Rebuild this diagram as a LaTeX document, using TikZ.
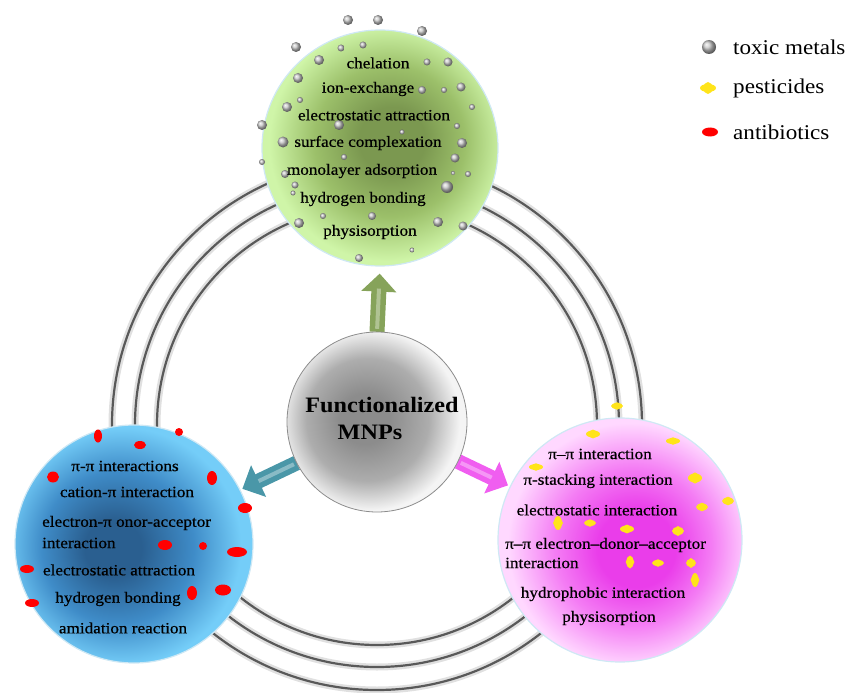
\documentclass[tikz,border=0pt]{standalone}
\usepackage{fontspec}
\setmainfont[FakeStretch=1.1]{Liberation Serif}
\newfontfamily\heavyserif[FakeStretch=1.1,FakeBold=0.6]{Liberation Serif}
\usetikzlibrary{arrows.meta,calc}
\definecolor{gIn}{HTML}{7B9850}
\definecolor{gMid}{HTML}{9CC06A}
\definecolor{gOut}{HTML}{CFF5A8}
\definecolor{bIn}{HTML}{2A5F90}
\definecolor{bMid}{HTML}{3F8CC8}
\definecolor{bOut}{HTML}{74CDF8}
\definecolor{pIn}{HTML}{EA3DEA}
\definecolor{pMid}{HTML}{F47CF4}
\definecolor{pOut}{HTML}{FFD8FF}
\definecolor{cIn}{HTML}{8C8C8C}
\definecolor{cMid}{HTML}{ADADAD}
\definecolor{cOut}{HTML}{F4F4F4}
\definecolor{arrG}{HTML}{86A35A}
\definecolor{arrT}{HTML}{4A97A8}
\definecolor{arrP}{HTML}{F05EF0}
\definecolor{pestC}{HTML}{FFE41A}
\definecolor{rimC}{HTML}{CFE8F4}
\pgfdeclareradialshading{greensh}{\pgfpoint{3bp}{2bp}}{color(0bp)=(gIn); color(7bp)=(gIn); color(16bp)=(gMid); color(25bp)=(gOut); color(50bp)=(gOut)}
\pgfdeclareradialshading{bluesh}{\pgfpoint{-5bp}{-1bp}}{color(0bp)=(bIn); color(6bp)=(bIn); color(16bp)=(bMid); color(25bp)=(bOut); color(50bp)=(bOut)}
\pgfdeclareradialshading{pinksh}{\pgfpoint{4bp}{-2bp}}{color(0bp)=(pIn); color(8bp)=(pIn); color(16bp)=(pMid); color(25bp)=(pOut); color(50bp)=(pOut)}
\pgfdeclareradialshading{coresh}{\pgfpoint{-4bp}{1bp}}{color(0bp)=(cIn); color(7bp)=(cIn); color(17bp)=(cMid); color(25bp)=(cOut); color(50bp)=(cOut)}
\begin{document}
\begin{tikzpicture}[x=1pt,y=-1pt,
  ringshadow/.style={draw=black!12, line width=7pt},
  ring/.style={draw=black!65, line width=2.2pt},
  bubble/.style={circle, inner sep=0pt, draw=rimC, line width=1.2pt},
  txt/.style={inner sep=0pt, font=\heavyserif\fontsize{15.6}{18}\selectfont, text=black},
  titletxt/.style={inner sep=0pt, font=\fontsize{22}{26}\selectfont\bfseries},
  legtxt/.style={inner sep=0pt, anchor=west, font=\fontsize{21}{24}\selectfont},
  blockarrow/.style={line width=15pt, -{Triangle[width=34pt,length=18pt]}},
  shine/.style={line width=4pt, draw=white, opacity=0.35},
  metal/.style={ball color=gray!45},
  antib/.style={fill=red},
  pest/.style={fill=pestC}]

\useasboundingbox (0,0) rectangle (847,693);

% rings
\coordinate (rc) at (377,425);
\foreach \r in {220,242,265} {\draw[ringshadow] (rc) circle[radius=\r pt];}
\foreach \r in {220,242,265} {\draw[ring] (rc) circle[radius=\r pt];}

% outer bubbles
\node[bubble, shading=greensh, minimum size=236pt] (top) at (380,148) {};
\node[bubble, shading=bluesh, minimum size=238pt] (blue) at (134,544) {};
\node[bubble, shading=pinksh, minimum size=244pt] (pink) at (620,540) {};

% core position, arrows beneath the core
\node[circle, minimum size=180pt, inner sep=0pt] (corepos) at (377,422) {};
\draw[blockarrow, draw=arrG, shorten >=7pt] (corepos.north) -- (top.south);
\draw[shine, shorten >=22pt, shorten <=3pt] (corepos.north) -- (top.south);
\draw[blockarrow, draw=arrT, shorten >=2pt] (corepos.207) -- (blue.27);
\draw[shine, shorten >=20pt, shorten <=3pt] (corepos.207) -- (blue.27);
\draw[blockarrow, draw=arrP, shorten >=2pt] (corepos.334) -- (pink.154);
\draw[shine, shorten >=20pt, shorten <=3pt] (corepos.334) -- (pink.154);
\node[circle, minimum size=180pt, inner sep=0pt, shading=coresh, draw=black!45, line width=0.8pt] (core) at (377,422) {};

% toxic metals
\foreach \x/\y/\r in {348/20/5,378/20/5,422/31/5,296/47/5,341/48/3.5,363/45/3.5,319/60/5,427/62/3.5,448/62/4.5,
  298/78/5,300/100/3,422/90/4,444/90/3,461/87/4.5,287/107/5,472/107/3,262/125/5,339/125/5,457/126/3,402/132/2.5,
  283/142/5.5,462/143/5,344/157/3,455/158/4.5,262/162/3,285/174/4,453/173/2,468/174/3,295/185/3.5,447/187/6,
  293/193/2.5,323/216/3,372/216/4,299/223/5,438/222/5,463/226/4.5,412/250/2.5,359/258/4}
  {\shade[metal] (\x,\y) circle (\r pt);}

% antibiotics
\foreach \x/\y/\a/\b in {98/436/4/6.5,140/445/6/4,179/432/4/4,53/477/6/5.5,212/478/5/7,245/508/7/5,165/545/7/5,
  203/546/4/4,237/552/10/5,27/569/7/4,192/593/5/7,223/590/8/5.5,32/603/7/4}
  {\fill[antib] (\x,\y) ellipse (\a pt and \b pt);}

% pesticides (horizontal)
\foreach \x/\y/\a/\b in {617/406/6/3,593/434/7/3.5,673/441/7/3,536/467/7/3,695/478/7/4.5,728/501/6/3.5,702/507/6/3.5,
  590/523/6/3,627/529/7/3.5,678/531/6/4,658/563/6/3,691/563/5/4}
  {\fill[pest] (\x,\y) ellipse (\a pt and \b pt);
   \fill[pest] (\x,\y) ellipse (0.55*\a pt and 1.25*\b pt);}
% pesticides (vertical)
\foreach \x/\y/\a/\b in {558/523/4/7,630/562/3.5/6.5,695/580/3.5/7}
  {\fill[pest] (\x,\y) ellipse (\a pt and \b pt);
   \fill[pest] (\x,\y) ellipse (1.25*\a pt and 0.55*\b pt);}

% top bubble texts
\node[txt] (g1) at (378,63) {chelation};
\node[txt] (g2) at (368,89) {ion-exchange};
\node[txt] (g3) at (374,115) {electrostatic attraction};
\node[txt] (g4) at (368,143) {surface complexation};
\node[txt] (g5) at (362,171) {monolayer adsorption};
\node[txt] (g6) at (363,199) {hydrogen bonding};
\node[txt] (g7) at (370,232) {physisorption};

% left bubble texts
\node[txt] (b1) at (125,466) {π-π interactions};
\node[txt] (b2) at (127,492) {cation-π interaction};
\node[txt, anchor=west] (b3) at (42,523) {electron-π onor-acceptor};
\node[txt, anchor=west] (b4) at (42,543) {interaction};
\node[txt] (b5) at (119,570) {electrostatic attraction};
\node[txt] (b6) at (118,599) {hydrogen bonding};
\node[txt] (b7) at (123,628) {amidation reaction};

% right bubble texts
\node[txt] (p1) at (600,454) {π–π interaction};
\node[txt] (p2) at (598,481) {π-stacking interaction};
\node[txt] (p3) at (597,510) {electrostatic interaction};
\node[txt, anchor=west] (p4) at (505,545) {π–π electron–donor–acceptor};
\node[txt, anchor=west] (p5) at (505,563) {interaction};
\node[txt] (p6) at (603,594) {hydrophobic interaction};
\node[txt] (p7) at (609,618) {physisorption};

% core title
\node[titletxt] (c1) at (382,405) {Functionalized};
\node[titletxt] (c2) at (370,432) {MNPs};

% legend
\shade[metal] (709,47) circle (7pt);
\fill[pest] (708,88) ellipse (8pt and 4pt);
\fill[pest] (708,88) ellipse (4.5pt and 6pt);
\fill[antib] (710,132) ellipse (8pt and 4.5pt);
\node[legtxt] (l1) at (733,47) {toxic metals};
\node[legtxt] (l2) at (733,88) {pesticides};
\node[legtxt] (l3) at (733,132) {antibiotics};
\end{tikzpicture}
\end{document}
